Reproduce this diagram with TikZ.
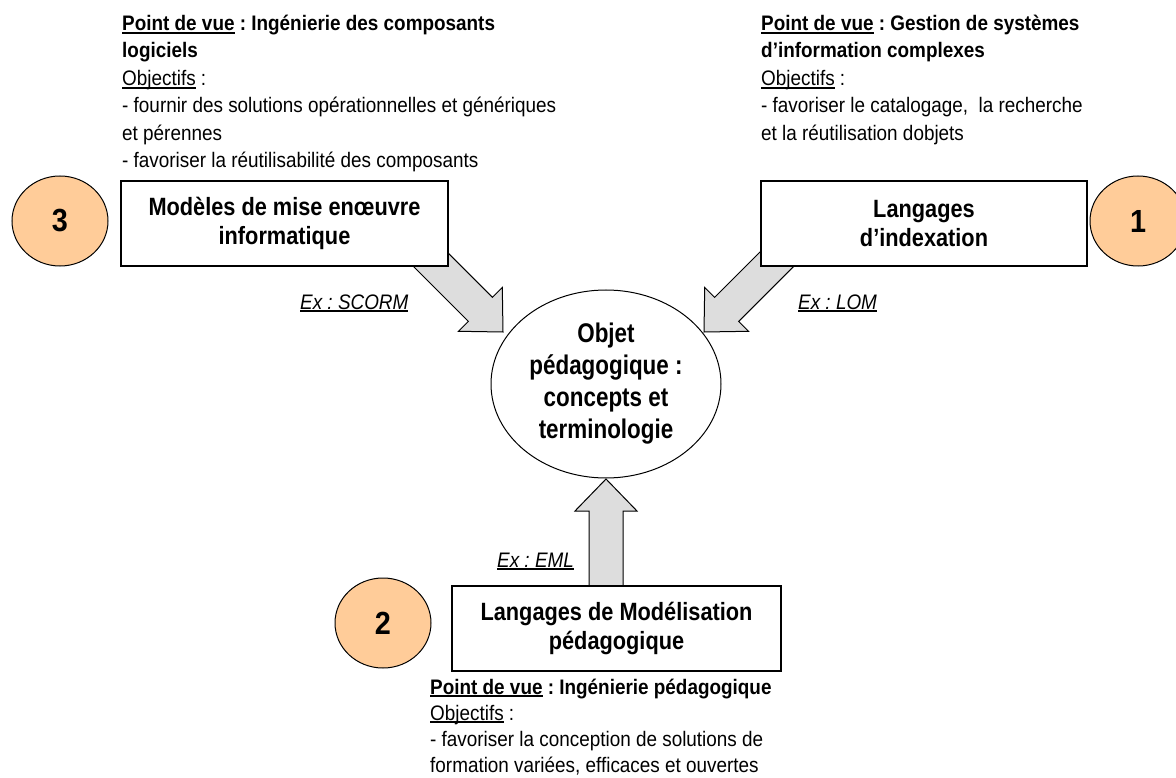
\documentclass[tikz,border=0pt]{standalone}
\usepackage{fontspec}
\setmainfont{Liberation Sans}[FakeStretch=0.9]
\newfontfamily\boxfont{Liberation Sans}[FakeStretch=0.87]
\newfontfamily\corefont{Liberation Sans}[FakeStretch=0.83]
\usetikzlibrary{calc,shapes.geometric}
\definecolor{peach}{RGB}{255,204,153}
\definecolor{arrowgray}{RGB}{221,221,221}

% underline at a fixed depth below the baseline
\newcommand\ulined[1]{\setbox0\hbox{#1}\rlap{\rule[-2.6pt]{\wd0}{1.3pt}}\box0\relax}

% wide block arrow from #1 (hidden end) to #2 (tip)
\newcommand\blockarrow[2]{%
  \path ($(#2)!32pt!(#1)$) coordinate (ba-base);
  \filldraw[blockarrow]
    ($(#1)!17pt!90:(#2)$) -- ($(ba-base)!17pt!90:(#2)$) -- ($(ba-base)!31pt!90:(#2)$)
    -- (#2)
    -- ($(ba-base)!31pt!-90:(#2)$) -- ($(ba-base)!17pt!-90:(#2)$) -- ($(#1)!17pt!-90:(#2)$)
    -- cycle;
}

\begin{document}
\frenchspacing
\begin{tikzpicture}[x=1pt,y=-1pt,
  bodytext/.style={anchor=base west, inner sep=0pt, font=\fontsize{21}{26}\selectfont},
  headtext/.style={anchor=base west, inner sep=0pt, font=\fontsize{21}{26}\selectfont\bfseries},
  extext/.style={anchor=base west, inner sep=0pt, font=\fontsize{21}{26}\selectfont\itshape},
  conceptbox/.style={draw, line width=1.3pt, fill=white, minimum width=327pt,
    minimum height=85pt, align=center, inner sep=0pt,
    font=\boxfont\fontsize{25}{29}\selectfont\bfseries},
  numdisc/.style={ellipse, draw, line width=1pt, fill=peach, minimum width=96pt,
    minimum height=90pt, inner sep=0pt, font=\fontsize{32}{32}\selectfont\bfseries},
  core/.style={ellipse, draw, line width=1pt, fill=white, minimum width=230pt,
    minimum height=188pt, inner sep=0pt, align=center,
    font=\corefont\fontsize{27}{32}\selectfont\bfseries},
  blockarrow/.style={fill=arrowgray, draw, line width=1pt, line join=miter}
]
\useasboundingbox (0,0) rectangle (1176,778);

% arrow ends and tips
\coordinate (scorm-start) at (416,245);
\coordinate (scorm-tip) at (503,332);
\coordinate (lom-start) at (791,245);
\coordinate (lom-tip) at (704,332);
\coordinate (eml-start) at (606,610);
\coordinate (eml-tip) at (606,479);

\blockarrow{scorm-start}{scorm-tip}
\blockarrow{lom-start}{lom-tip}
\blockarrow{eml-start}{eml-tip}

% central concept
\node[core] (objet) at (606,384) {Objet\\pédagogique :\\concepts et\\terminologie};

% the three families of languages
\node[conceptbox] (mise) at (284.5,223.5) {Modèles de mise enœuvre\\informatique};
\node[conceptbox, minimum width=326pt] (index) at (924,223.5) {Langages\\d’indexation};
\node[conceptbox, minimum width=329pt] (model) at (616.5,628.5) {Langages de Modélisation\\pédagogique};

% numbered discs
\node[numdisc] (n3) at (60,221) {3};
\node[numdisc] (n1) at (1138,221) {1};
\node[numdisc] (n2) at (383,623) {2};

% examples
\node[extext] (ex-scorm) at (300,309) {\ulined{Ex : SCORM}};
\node[extext] (ex-lom) at (798,309) {\ulined{Ex : LOM}};
\node[extext] (ex-eml) at (497,567) {\ulined{Ex : EML}};

% viewpoint: software components
\node[headtext] (tl1) at (122,31) {\ulined{Point de vue} : Ingénierie des composants};
\node[headtext] (tl2) at (122,58) {logiciels};
\node[bodytext] (tl3) at (122,86) {\ulined{Objectifs} :};
\node[bodytext] (tl4) at (122,113) {- fournir des solutions opérationnelles et génériques};
\node[bodytext] (tl5) at (122,141) {et pérennes};
\node[bodytext] (tl6) at (122,168) {- favoriser la réutilisabilité des composants};

% viewpoint: information systems
\node[headtext] (tr1) at (761,31) {\ulined{Point de vue} : Gestion de systèmes};
\node[headtext] (tr2) at (761,58) {d’information complexes};
\node[bodytext] (tr3) at (761,86) {\ulined{Objectifs} :};
\node[bodytext] (tr4) at (761,113) {- favoriser le catalogage,\ \ la recherche};
\node[bodytext] (tr5) at (761,141) {et la réutilisation dobjets};

% viewpoint: instructional engineering
\node[headtext] (bl1) at (430,694) {\ulined{Point de vue} : Ingénierie pédagogique};
\node[bodytext] (bl2) at (430,720) {\ulined{Objectifs} :};
\node[bodytext] (bl3) at (430,746) {- favoriser la conception de solutions de};
\node[bodytext] (bl4) at (430,772) {formation variées, efficaces et ouvertes};
\end{tikzpicture}
\end{document}
